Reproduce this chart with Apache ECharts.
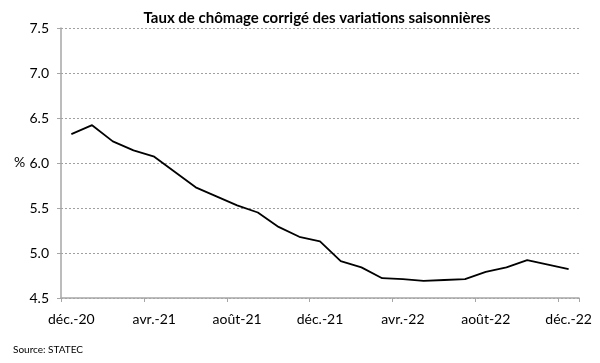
<!DOCTYPE html>
<html>
<head>
<meta charset="utf-8">
<script src="https://cdn.jsdelivr.net/npm/echarts@6/dist/echarts.min.js"></script>
<style>html,body{margin:0;padding:0;background:#fff;}#c{width:600px;height:363px;}</style>
</head>
<body>
<div id="c"></div>
<script>
const categories = ['déc.-20','janv.-21','févr.-21','mars-21','avr.-21','mai-21','juin-21','juil.-21','août-21','sept.-21','oct.-21','nov.-21','déc.-21','janv.-22','févr.-22','mars-22','avr.-22','mai-22','juin-22','juil.-22','août-22','sept.-22','oct.-22','nov.-22','déc.-22'];
const values = [6.32,6.42,6.24,6.14,6.07,5.90,5.73,5.63,5.53,5.45,5.29,5.18,5.13,4.91,4.84,4.72,4.71,4.69,4.70,4.71,4.79,4.84,4.92,4.87,4.82];
const yTicks = [4.5,5.0,5.5,6.0,6.5,7.0,7.5];
const titleText = 'Taux de chômage corrigé des variations saisonnières';
const yName = '%';
const sourceText = 'Source: STATEC';

const FONT = 'Lato';
const chart = echarts.init(document.getElementById('c'), null, {renderer:'canvas'});
chart.setOption({
  animation:false,
  backgroundColor:'#fff',
  title:{text:titleText,left:312,textAlign:'center',top:6,textStyle:{fontFamily:FONT,fontWeight:'bold',fontSize:15,color:'#000'}},
  grid:{left:61,right:21,top:28,bottom:65},
  graphic:[
    {type:'text',left:14,top:155,style:{text:yName,font:'14px '+FONT,fill:'#000'}},
    {type:'text',left:13,top:345,style:{text:sourceText,font:'10px '+FONT,fill:'#000'}}
  ],
  xAxis:{type:'category',data:categories,boundaryGap:true,
    axisLine:{lineStyle:{color:'#a6a6a6',width:1.5}},
    axisTick:{show:true,interval:3,length:4,lineStyle:{color:'#a6a6a6'}},
    axisLabel:{interval:3,fontFamily:FONT,fontSize:14,color:'#000',margin:14},
    splitLine:{show:false}},
  yAxis:{type:'value',min:yTicks[0],max:yTicks[yTicks.length-1],interval:0.5,
    axisLine:{show:true,lineStyle:{color:'#a6a6a6',width:1.5}},
    axisTick:{show:true,length:4,lineStyle:{color:'#a6a6a6'}},
    axisLabel:{fontFamily:FONT,fontSize:14,color:'#000',margin:12,formatter:v=>v.toFixed(1)},
    splitLine:{show:true,lineStyle:{color:'#a0a0a0',type:[2,2],width:1}}},
  series:[{type:'line',data:values,symbol:'none',lineStyle:{color:'#000',width:1.8}}]
});
</script>
</body>
</html>
